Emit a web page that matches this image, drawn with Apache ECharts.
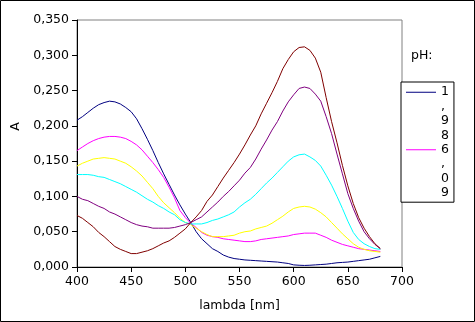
<!DOCTYPE html>
<html>
<head>
<meta charset="utf-8">
<script src="https://cdn.jsdelivr.net/npm/echarts@6/dist/echarts.min.js"></script>
<style>
html,body{margin:0;padding:0;background:#fff;}
#chart{width:475px;height:322px;}
</style>
</head>
<body>
<div id="chart"></div>
<script>
// wavelengths (nm)
const lambda = [400,405,410,415,420,425,430,435,440,445,450,455,460,465,470,475,480,485,490,495,500,505,510,515,520,525,530,535,540,545,550,555,560,565,570,575,580,585,590,595,600,605,610,615,620,625,630,635,640,645,650,655,660,665,670,675,680];
// absorbance series
const pH198 = [0.208,0.213,0.219,0.225,0.230,0.233,0.235,0.234,0.231,0.226,0.220,0.210,0.196,0.181,0.165,0.148,0.132,0.117,0.102,0.088,0.075,0.063,0.050,0.040,0.033,0.026,0.022,0.017,0.014,0.012,0.011,0.010,0.0095,0.009,0.0085,0.008,0.0075,0.007,0.006,0.005,0.003,0.0025,0.0022,0.0025,0.003,0.0035,0.004,0.005,0.006,0.0065,0.007,0.008,0.009,0.010,0.011,0.013,0.015];
const pH609 = [0.165,0.170,0.175,0.179,0.182,0.184,0.185,0.185,0.184,0.182,0.178,0.173,0.166,0.157,0.148,0.138,0.127,0.113,0.098,0.080,0.070,0.062,0.056,0.049,0.045,0.043,0.042,0.040,0.039,0.038,0.037,0.036,0.036,0.037,0.039,0.040,0.041,0.042,0.043,0.044,0.046,0.047,0.048,0.048,0.048,0.045,0.042,0.038,0.035,0.032,0.030,0.028,0.026,0.025,0.024,0.023,0.022];
const seriesYellow = [0.143,0.147,0.150,0.153,0.154,0.155,0.154,0.153,0.150,0.147,0.142,0.136,0.129,0.120,0.111,0.100,0.091,0.084,0.077,0.069,0.063,0.060,0.055,0.050,0.046,0.043,0.043,0.043,0.044,0.045,0.048,0.050,0.051,0.054,0.056,0.058,0.062,0.067,0.072,0.078,0.083,0.085,0.086,0.085,0.082,0.077,0.071,0.063,0.055,0.047,0.040,0.033,0.028,0.025,0.023,0.022,0.021];
const seriesCyan = [0.131,0.131,0.131,0.130,0.128,0.127,0.124,0.121,0.118,0.114,0.110,0.106,0.101,0.096,0.092,0.087,0.083,0.078,0.074,0.067,0.063,0.061,0.061,0.061,0.063,0.066,0.068,0.071,0.074,0.078,0.085,0.091,0.096,0.103,0.111,0.119,0.126,0.134,0.142,0.150,0.156,0.159,0.160,0.156,0.151,0.143,0.130,0.116,0.100,0.083,0.065,0.049,0.039,0.033,0.029,0.026,0.025];
const seriesPurple = [0.100,0.096,0.094,0.090,0.086,0.083,0.078,0.075,0.071,0.067,0.063,0.060,0.058,0.057,0.055,0.055,0.055,0.055,0.056,0.058,0.060,0.063,0.067,0.071,0.078,0.085,0.092,0.100,0.107,0.115,0.123,0.133,0.141,0.153,0.167,0.180,0.194,0.206,0.221,0.234,0.244,0.253,0.255,0.253,0.245,0.235,0.213,0.189,0.160,0.132,0.104,0.083,0.065,0.050,0.040,0.032,0.026];
const seriesDarkRed = [0.073,0.069,0.063,0.057,0.049,0.043,0.036,0.029,0.025,0.022,0.019,0.019,0.021,0.023,0.026,0.030,0.034,0.037,0.042,0.048,0.054,0.063,0.071,0.080,0.093,0.102,0.114,0.126,0.137,0.148,0.160,0.173,0.187,0.200,0.217,0.232,0.247,0.263,0.281,0.294,0.305,0.311,0.312,0.307,0.296,0.276,0.240,0.206,0.176,0.144,0.115,0.090,0.070,0.055,0.043,0.033,0.026];
// legend labels
const legendNames = ['1,98','6,09'];
const legendTitle = 'pH:';
const xName = 'lambda [nm]';
const yName = 'A';

const FONT = 'DejaVu Sans';
const FS = 12.5;
const LH = 14.4;

function pairs(ys){ return lambda.map((x,i)=>[x, ys[i]]); }

const seriesDefs = [
  {name: legendNames[0], data: pH198, color: '#000080'},
  {name: legendNames[1], data: pH609, color: '#ff00ff'},
  {name: 's3', data: seriesYellow, color: '#ffff00'},
  {name: 's4', data: seriesCyan, color: '#00ffff'},
  {name: 's5', data: seriesPurple, color: '#800080'},
  {name: 's6', data: seriesDarkRed, color: '#800000'}
];

const chart = echarts.init(document.getElementById('chart'), null, {renderer: 'canvas'});
const itemH = LH * 4;
const iconPath = 'path://M0,0H0.01V0.01H0Z M0,' + (itemH - 0.01) + 'H0.01V' + itemH + 'H0Z M0,' + (LH/2 - 0.5) + 'H30V' + (LH/2 + 0.5) + 'H0Z';

chart.setOption({
  animation: false,
  backgroundColor: '#fff',
  textStyle: {fontFamily: FONT},
  grid: {left: 77, right: 73, top: 20, bottom: 55, show: true, borderColor: '#808080', borderWidth: 1, backgroundColor: 'transparent'},
  xAxis: {
    type: 'value', min: 400, max: 700, interval: 50,
    name: xName, nameLocation: 'middle', nameGap: 32,
    nameTextStyle: {fontFamily: FONT, fontSize: FS, color: '#000'},
    axisLine: {show: true, lineStyle: {color: '#000', width: 1}},
    axisTick: {show: true, length: 5, lineStyle: {color: '#000'}},
    axisLabel: {fontFamily: FONT, fontSize: FS, color: '#000', margin: 8},
    splitLine: {show: false}
  },
  yAxis: {
    type: 'value', min: 0, max: 0.35, interval: 0.05,
    name: yName, nameLocation: 'middle', nameGap: 50, nameRotate: 90,
    nameTextStyle: {fontFamily: FONT, fontSize: FS, color: '#000', padding: [0, 0, 0, 34]},
    axisLine: {show: true, lineStyle: {color: '#000', width: 1}},
    axisTick: {show: true, length: 5, lineStyle: {color: '#000'}},
    axisLabel: {fontFamily: FONT, fontSize: FS, color: '#000', margin: 8,
      formatter: v => v.toFixed(3).replace('.', ',')},
    splitLine: {show: false}
  },
  legend: {
    data: legendNames,
    orient: 'vertical',
    left: 401, top: 82,
    padding: [3, 5, 2, 5],
    itemGap: 0,
    itemWidth: 30,
    itemHeight: itemH,
    icon: iconPath,
    symbolKeepAspect: false,
    itemStyle: {borderWidth: 0},
    backgroundColor: '#fff',
    borderColor: '#000',
    borderWidth: 1,
    borderRadius: 0,
    selectedMode: false,
    formatter: n => n.split('').join('\n'),
    textStyle: {fontFamily: FONT, fontSize: FS, color: '#000', lineHeight: LH}
  },
  graphic: [
    {type: 'text', left: 411, top: 49, style: {text: legendTitle, font: FS + 'px "' + FONT + '"', fill: '#000'}},
    {type: 'rect', shape: {x: 0.5, y: 0.5, width: 474, height: 321}, style: {fill: 'none', stroke: '#000', lineWidth: 1}, silent: true, z: 100}
  ],
  series: seriesDefs.map(s => ({
    type: 'line', name: s.name, data: pairs(s.data),
    showSymbol: false, symbol: 'none', smooth: false,
    lineStyle: {color: s.color, width: 1},
    itemStyle: {color: s.color},
    emphasis: {disabled: true}
  }))
});
</script>
</body>
</html>
